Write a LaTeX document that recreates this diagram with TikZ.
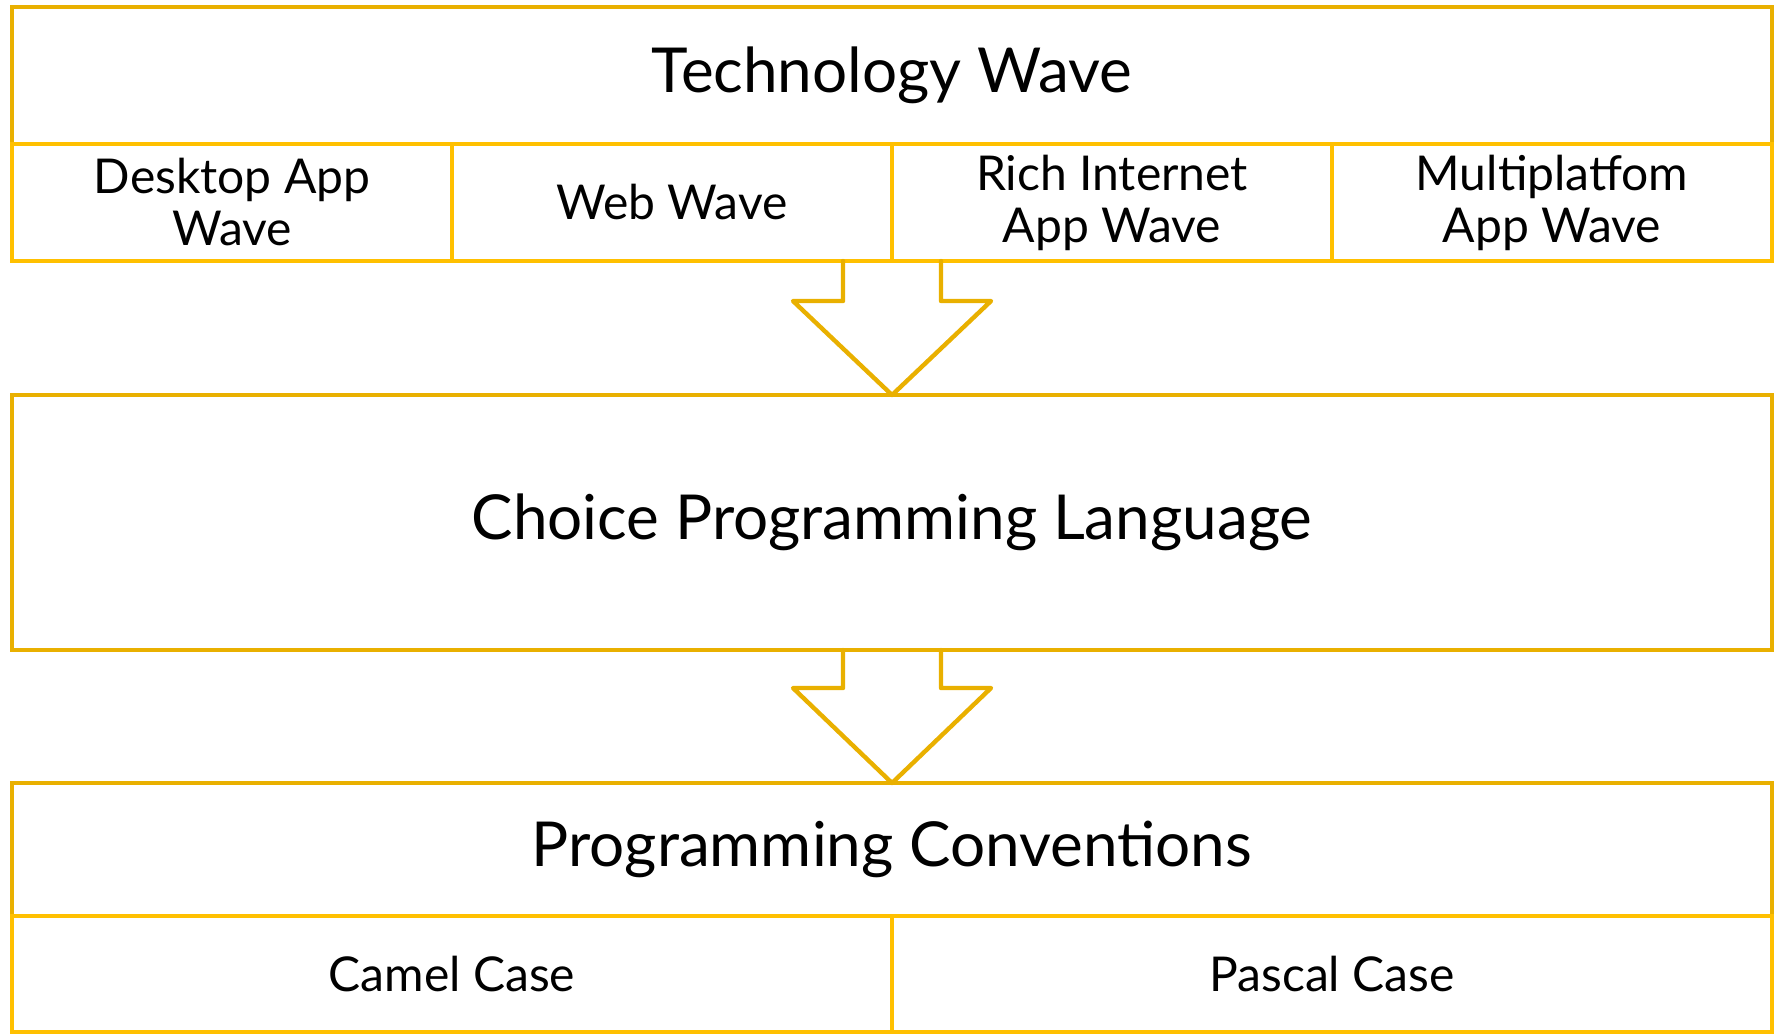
\documentclass[tikz,border=0pt]{standalone}
\usepackage{fontspec}
\setmainfont{Lato}
\usetikzlibrary{calc}
\definecolor{goldA}{HTML}{E9B000}
\definecolor{goldB}{HTML}{FFC000}
\tikzset{
  mainbox/.style={draw=goldA, line width=2.2pt, inner sep=0pt, outer sep=0pt, align=center, font=\fontsize{31}{37}\selectfont},
  cellbox/.style={draw=goldB, line width=2.2pt, inner sep=0pt, outer sep=0pt, align=center, font=\fontsize{24}{26}\selectfont},
  arrowline/.style={draw=goldA, line width=2.2pt, line join=round, line cap=round}
}
\begin{document}
\begin{tikzpicture}[x=0.5pt,y=-0.5pt]
\useasboundingbox (0,0) rectangle (1775,1035);
% main boxes
\node[mainbox, minimum width=880pt, minimum height=68.5pt] (tech) at (892,75.5) {Technology Wave};
\node[mainbox, minimum width=880pt, minimum height=127.5pt] (mid) at (892,522.5) {Choice Programming Language};
\node[mainbox, minimum width=880pt, minimum height=66.5pt] (conv) at (892,849.5) {Programming Conventions};
% cells
\node[cellbox, minimum width=220pt, minimum height=58.5pt] (c1) at (232,202.5) {Desktop App\\Wave};
\node[cellbox, minimum width=220pt, minimum height=58.5pt] (c2) at (672,202.5) {Web Wave};
\node[cellbox, minimum width=220pt, minimum height=58.5pt] (c3) at (1112,202.5) {Rich Internet\\App Wave};
\node[cellbox, minimum width=220pt, minimum height=58.5pt] (c4) at (1552,202.5) {Multiplatfom\\App Wave};
\node[cellbox, minimum width=440pt, minimum height=58pt] (d1) at (452,974) {Camel Case};
\node[cellbox, minimum width=440pt, minimum height=58pt] (d2) at (1332,974) {Pascal Case};
% arrows
\draw[arrowline] ($(c2.south east)+(-49,0)$) -- ++(0,40) -- ++(-50,0) -- (mid.north)
  -- ($(mid.north)+(99,-94)$) -- ++(-50,0) -- ++(0,-40);
\draw[arrowline] ($(mid.south)+(-49,0)$) -- ++(0,38) -- ++(-50,0) -- (conv.north)
  -- ($(conv.north)+(99,-95)$) -- ++(-50,0) -- ++(0,-38);
\end{tikzpicture}
\end{document}
